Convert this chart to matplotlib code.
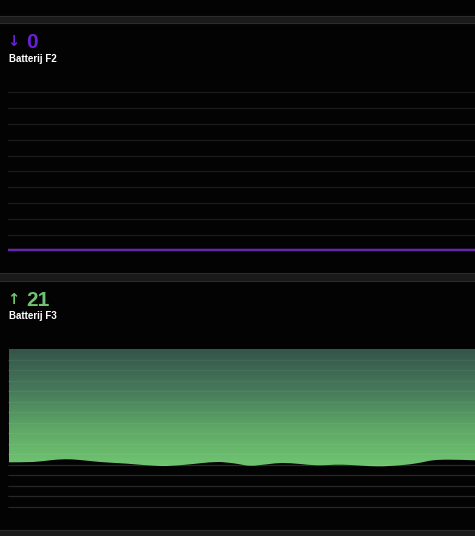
import numpy as np
import matplotlib
matplotlib.use("Agg")
import matplotlib.pyplot as plt
from matplotlib.patches import Rectangle, PathPatch
from matplotlib.path import Path
from matplotlib.colors import LinearSegmentedColormap

plt.rcParams['font.family'] = ['Liberation Sans', 'DejaVu Sans']

# --- data -------------------------------------------------------------
# Batterij F2: flat at 0 over the whole period
f2_hours = [0, 3, 6, 9, 12, 15, 18, 21, 24]
f2_values = [0, 0, 0, 0, 0, 0, 0, 0, 0]
f2_grid = [1, 2, 3, 4, 5, 6, 7, 8, 9, 10]

# Batterij F3
f3_hours = [0, 1.24, 2.11, 2.88, 3.66, 4.69, 6.08, 7.78, 8.96, 9.84, 10.76, 11.54,
            12.41, 13.29, 14.06, 14.99, 15.86, 17.2, 18.95, 20.14, 21.01, 21.84, 22.71, 24]
f3_values = [52.4, 52.7, 54.3, 55.3, 54.6, 52.7, 51.1, 48.9, 49.9, 51.5, 52.7, 51.5,
             49.2, 50.5, 51.8, 50.8, 49.6, 50.1, 48.6, 49.6, 51.5, 54.3, 54.9, 54.3]
f3_grid = [10, 20, 30, 40, 50, 60, 70, 80, 90, 100, 110, 120, 130, 140, 150]
f3_top = 160

W, H = 475, 536
fig = plt.figure(figsize=(W / 100, H / 100), dpi=100)
fig.patch.set_facecolor('#1a1a1a')


def fx(px):
    return px / W


def fy(py):
    return 1 - py / H


def card(top, bottom):
    fig.patches.append(Rectangle((fx(-2), fy(bottom)), fx(W + 4), fy(top) - fy(bottom),
                                 transform=fig.transFigure, facecolor='#030303',
                                 edgecolor='#2c2c2c', linewidth=0.8, zorder=-5))


card(-10, 16)
card(23, 273)
card(281, 530)

# --- headers ----------------------------------------------------------
purple = '#6a1fd8'
green = '#6fc46f'
arrow_font = dict(family='DejaVu Sans', fontsize=10.5, fontweight='bold', va='baseline')
fig.text(fx(7.5), fy(46), '↓', color=purple, **arrow_font)
fig.text(fx(26), fy(47.5), '0', color=purple, fontsize=15, fontweight='bold', va='baseline')
fig.text(fx(9), fy(62), 'Batterij F2', color='white', fontsize=7, fontweight='bold', va='baseline')

fig.text(fx(7.5), fy(304), '↑', color=green, **arrow_font)
fig.text(fx(26), fy(305.5), '21', color=green, fontsize=15, fontweight='bold', va='baseline')
fig.text(fx(9), fy(319), 'Batterij F3', color='white', fontsize=7, fontweight='bold', va='baseline')

# --- panel 1 ----------------------------------------------------------
ax1 = fig.add_axes([fx(8), fy(266.1), 1 - fx(8), fy(76.5) - fy(266.1)])
ax1.set_xlim(0, 24)
ax1.set_ylim(-1, 11)
ax1.axis('off')
for g in f2_grid:
    ax1.axhline(g, color='white', alpha=0.10, linewidth=0.9)
ax1.plot(f2_hours, f2_values, color='#8a3ce0', linewidth=3.0, alpha=0.2, solid_capstyle='butt')
ax1.plot(f2_hours, f2_values, color='#7b2fd0', linewidth=1.1, solid_capstyle='butt')

# --- panel 2 ----------------------------------------------------------
# grid below the fill (visible on black), a faint copy above it
ax2g = fig.add_axes([fx(8), fy(517.5), 1 - fx(8), fy(349) - fy(517.5)])
ax2g.set_xlim(0, 24)
ax2g.set_ylim(0, f3_top)
ax2g.axis('off')
for g in f3_grid:
    ax2g.axhline(g, color='#1c1c1c', linewidth=0.9)

ax2 = fig.add_axes([fx(9), fy(517.5), 1 - fx(9), fy(349) - fy(517.5)])
ax2.set_xlim(0, 24)
ax2.set_ylim(0, f3_top)
ax2.axis('off')

# smooth curve through the points (catmull-rom as cubic bezier)
pts = np.column_stack([f3_hours, f3_values])
ext = np.vstack([pts[0], pts, pts[-1]])
verts = [tuple(pts[0])]
codes = [Path.MOVETO]
for i in range(len(pts) - 1):
    p0, p1, p2, p3 = ext[i], ext[i + 1], ext[i + 2], ext[i + 3]
    verts += [tuple(p1 + (p2 - p0) / 6), tuple(p2 - (p3 - p1) / 6), tuple(p2)]
    codes += [Path.CURVE4] * 3
verts += [(24, f3_top), (0, f3_top), (0, 0)]
codes += [Path.LINETO, Path.LINETO, Path.CLOSEPOLY]
clip = PathPatch(Path(verts, codes), transform=ax2.transData, facecolor='none', edgecolor='none')
ax2.add_patch(clip)

cmap = LinearSegmentedColormap.from_list('f3', ['#72c872', '#5fa866', '#45785a', '#34544a'])
grad = np.linspace(0, 1, 256).reshape(-1, 1)
img = ax2.imshow(grad, extent=[0, 24, 45, f3_top], origin='lower', cmap=cmap,
                 aspect='auto', zorder=1)
img.set_clip_path(clip)
ax2.set_xlim(0, 24)
ax2.set_ylim(0, f3_top)
for g in f3_grid:
    ax2.axhline(g, color='white', alpha=0.05, linewidth=0.9, zorder=2)

fig.savefig('out.png', dpi=100, facecolor=fig.get_facecolor())
